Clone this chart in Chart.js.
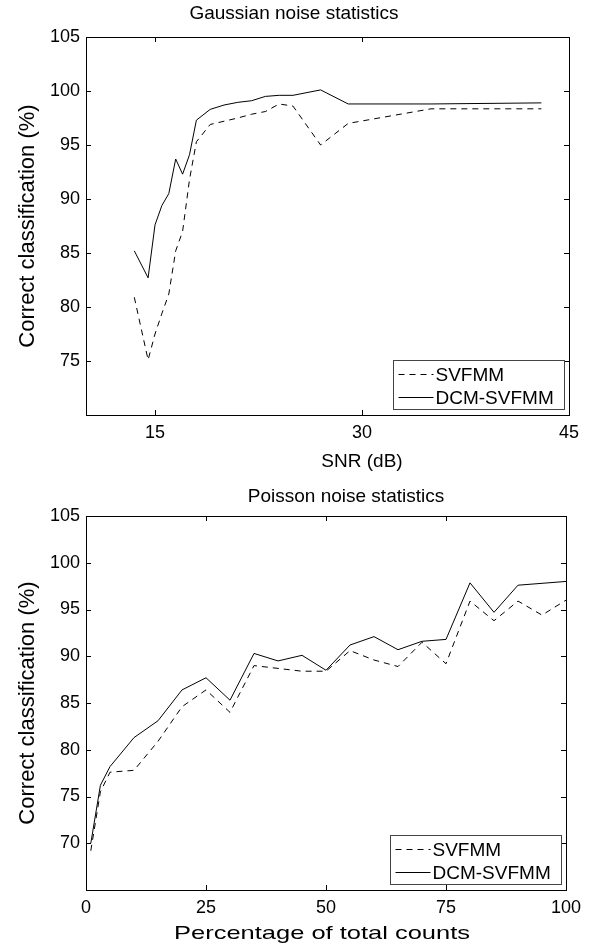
<!DOCTYPE html>
<html>
<head>
<meta charset="utf-8">
<script src="https://cdn.jsdelivr.net/npm/chart.js@4.4.1/dist/chart.umd.min.js"></script>
<style>
    body { margin: 0; background: #fff; }
    #page { position: relative; width: 592px; height: 945px; }
    .box { position: absolute; left: 0; width: 592px; }
</style>
</head>
<body>
<div id="page">
    <div class="box" id="gaussBox" style="top:0px;height:472px"><canvas id="gaussChart"></canvas></div>
    <div class="box" id="poisBox" style="top:472px;height:473px"><canvas id="poisChart"></canvas></div>
</div>
<script>
// Gaussian noise panel
var gaussSnr = [13.5, 14.5, 15, 15.5, 16, 16.5, 17, 17.5, 18, 19, 20, 21, 22, 23, 24, 25, 27, 29, 35, 43];
var gaussSvfmm = [80.9, 75.1, 77.5, 79.4, 81.2, 85.2, 87.0, 91.8, 95.3, 96.9, 97.2, 97.5, 97.85, 98.1, 98.8, 98.6, 95.0, 97.0, 98.35, 98.35];
var gaussDcm = [85.2, 82.7, 87.6, 89.4, 90.5, 93.7, 92.3, 94.1, 97.3, 98.3, 98.7, 98.95, 99.1, 99.5, 99.6, 99.6, 100.1, 98.8, 98.8, 98.9];
var gaussXTicks = [10, 15, 30, 45];
var gaussYTicks = [70, 75, 80, 85, 90, 95, 100, 105];

// Poisson noise panel
var poisPct = [1, 3, 5, 10, 15, 20, 25, 30, 35, 40, 45, 50, 55, 60, 65, 70, 75, 80, 85, 90, 95, 100];
var poisSvfmm = [69.2, 75.5, 77.6, 77.8, 80.9, 84.6, 86.4, 84.0, 89.0, 88.7, 88.4, 88.4, 90.6, 89.6, 88.9, 91.5, 89.2, 95.9, 93.8, 95.9, 94.4, 96.0];
var poisDcm = [70.0, 76.2, 78.2, 81.3, 83.1, 86.4, 87.7, 85.3, 90.3, 89.5, 90.1, 88.5, 91.2, 92.1, 90.7, 91.6, 91.8, 97.85, 94.7, 97.6, 97.8, 98.0];
var poisXTicks = [0, 25, 50, 75, 100];
var poisYTicks = [65, 70, 75, 80, 85, 90, 95, 100, 105];

var seriesNames = ["SVFMM", "DCM-SVFMM"];
var fontFamily = "'Liberation Sans', Arial, sans-serif";

Chart.defaults.font.family = fontFamily;
Chart.defaults.color = "#000";

function toPoints(xs, ys)
{
    var pts = [];
    for (var i = 0; i < xs.length; i++)
    {
        pts.push({x: xs[i], y: ys[i]});
    }
    return pts;
}

// centred text, optionally stretched to a given width
function drawLabel(ctx, text, cx, cy, size, width)
{
    ctx.save();
    ctx.font = size + "px " + fontFamily;
    ctx.fillStyle = "#000";
    ctx.textAlign = "center";
    ctx.textBaseline = "middle";
    var sx = width ? width / ctx.measureText(text).width : 1;
    ctx.translate(cx, cy);
    ctx.scale(sx, 1);
    ctx.fillText(text, 0, 0);
    ctx.restore();
}

// box frame, inward ticks, panel titles and the legend box in the lower right
var frameAndLegend = {
    id: "frameAndLegend",
    afterDraw: function (chart, args, opts) {
        var ctx = chart.ctx;
        var a = chart.chartArea;
        var xs = chart.scales.x;
        var ys = chart.scales.y;
        ctx.save();
        ctx.strokeStyle = "#000";
        ctx.lineWidth = 1;
        ctx.strokeRect(Math.round(a.left) + 0.5, Math.round(a.top) + 0.5, Math.round(a.right - a.left), Math.round(a.bottom - a.top));
        var len = 5;
        ctx.beginPath();
        xs.ticks.forEach(function (t) {
            var px = Math.round(xs.getPixelForValue(t.value)) + 0.5;
            ctx.moveTo(px, a.bottom); ctx.lineTo(px, a.bottom - len);
            ctx.moveTo(px, a.top); ctx.lineTo(px, a.top + len);
        });
        ys.ticks.forEach(function (t) {
            var py = Math.round(ys.getPixelForValue(t.value)) + 0.5;
            ctx.moveTo(a.left, py); ctx.lineTo(a.left + len, py);
            ctx.moveTo(a.right, py); ctx.lineTo(a.right - len, py);
        });
        ctx.stroke();

        drawLabel(ctx, opts.title, opts.titleX, opts.titleY, 19);
        drawLabel(ctx, opts.xTitle, opts.xTitleX, opts.xTitleY, 19, opts.xTitleWidth);

        var w = 171, h = 49;
        var bx = Math.round(a.right - 5 - w) + 0.5;
        var by = Math.round(a.bottom - 6 - h) + 0.5;
        ctx.fillStyle = "#fff";
        ctx.fillRect(bx, by, w, h);
        ctx.strokeStyle = "#444";
        ctx.strokeRect(bx, by, w, h);
        ctx.font = "19px " + fontFamily;
        ctx.textBaseline = "middle";
        ctx.fillStyle = "#000";
        chart.data.datasets.forEach(function (ds, i) {
            var ry = Math.round(by + 13 + i * 23) + 0.5;
            ctx.beginPath();
            ctx.setLineDash(ds.borderDash || []);
            ctx.strokeStyle = "#000";
            ctx.moveTo(bx + 5, ry);
            ctx.lineTo(bx + 40, ry);
            ctx.stroke();
            ctx.setLineDash([]);
            ctx.fillText(ds.label, bx + 42, ry + 1);
        });
        ctx.restore();
    }
};

function makeChart(canvasId, cfg)
{
    var element = document.getElementById(canvasId);
    return new Chart(element, {
        type: "line",
        data: {
            datasets: [{
                label: seriesNames[0],
                data: toPoints(cfg.xs, cfg.dashed),
                borderColor: "#000",
                borderWidth: 1,
                borderDash: [6, 5],
                pointRadius: 0,
                tension: 0
            },
            {
                label: seriesNames[1],
                data: toPoints(cfg.xs, cfg.solid),
                borderColor: "#000",
                borderWidth: 1,
                pointRadius: 0,
                tension: 0
            }]
        },
        options: {
            responsive: true,
            maintainAspectRatio: false,
            animation: false,
            layout: {
                padding: {left: 0, right: cfg.padRight, top: cfg.padTop, bottom: 0}
            },
            plugins: {
                legend: {display: false},
                tooltip: {enabled: false},
                title: {display: false},
                frameAndLegend: cfg.labels
            },
            scales: {
                x: {
                    type: "linear",
                    min: cfg.xTicks[0],
                    max: cfg.xTicks[cfg.xTicks.length - 1],
                    grid: {display: false, drawTicks: false},
                    border: {display: false},
                    afterBuildTicks: function (scale) {
                        scale.ticks = cfg.xTicks.map(function (v) { return {value: v}; });
                    },
                    afterFit: function (scale) { scale.height = cfg.xAxisHeight; },
                    ticks: {
                        padding: 7,
                        maxRotation: 0,
                        autoSkip: false,
                        font: {size: 18},
                        callback: function (v) { return v == cfg.xHide ? "" : v; }
                    }
                },
                y: {
                    type: "linear",
                    min: cfg.yTicks[0],
                    max: cfg.yTicks[cfg.yTicks.length - 1],
                    grid: {display: false, drawTicks: false},
                    border: {display: false},
                    afterBuildTicks: function (scale) {
                        scale.ticks = cfg.yTicks.map(function (v) { return {value: v}; });
                    },
                    afterFit: function (scale) { scale.width = 86; },
                    ticks: {
                        padding: 6,
                        autoSkip: false,
                        font: {size: 18},
                        callback: function (v) { return v == cfg.yHide ? "" : v; }
                    },
                    title: {
                        display: true,
                        text: "Correct classification (%)",
                        font: {size: 22},
                        padding: {top: 15, bottom: 0}
                    }
                }
            }
        },
        plugins: [frameAndLegend]
    });
}

var gaussChart = makeChart("gaussChart", {
    xs: gaussSnr, dashed: gaussSvfmm, solid: gaussDcm,
    xTicks: gaussXTicks, yTicks: gaussYTicks, xHide: 10, yHide: 70,
    padRight: 23, padTop: 37, xAxisHeight: 57,
    labels: {title: "Gaussian noise statistics", titleX: 294, titleY: 14,
             xTitle: "SNR (dB)", xTitleX: 362, xTitleY: 462, xTitleWidth: 0}
});

var poisChart = makeChart("poisChart", {
    xs: poisPct, dashed: poisSvfmm, solid: poisDcm,
    xTicks: poisXTicks, yTicks: poisYTicks, xHide: null, yHide: 65,
    padRight: 26, padTop: 44, xAxisHeight: 55,
    labels: {title: "Poisson noise statistics", titleX: 346, titleY: 25,
             xTitle: "Percentage of total counts", xTitleX: 322, xTitleY: 462, xTitleWidth: 296}
});
</script>
</body>
</html>
